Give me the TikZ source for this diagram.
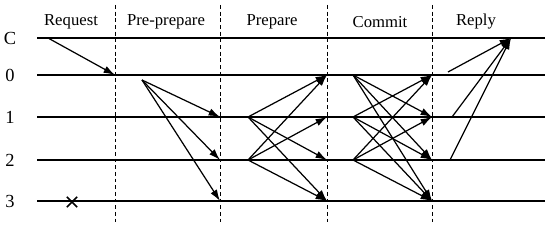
\documentclass[tikz,border=0pt]{standalone}
\usepackage{fontspec}
\setmainfont{Liberation Serif}
\usetikzlibrary{arrows.meta,shapes.misc}

\begin{document}
\begin{tikzpicture}[x=0.02cm, y=-0.02cm,
    timeline/.style={line width=0.9pt},
    phaseline/.style={line width=0.5pt, dash pattern=on 2.2pt off 1.6pt},
    msg/.style={-{Latex[length=6.5pt,width=4.2pt]}, line width=0.7pt},
    lbl/.style={font=\fontsize{10.5}{12}\selectfont},
    hdr/.style={font=\fontsize{9.5}{11}\selectfont}]
  \useasboundingbox (0,0) rectangle (550,229);

  %% Replica rows
  \foreach \name/\y in {C/38,0/75,1/117,2/160,3/201} {
    \node[lbl] (l\name) at (10,\y) {\name};
    \coordinate (s\name) at (37,\y);
    \coordinate (e\name) at (545,\y);
    \draw[timeline] (s\name) -- (e\name);
  }

  %% Phase boundaries
  \foreach \i/\x in {1/115,2/220,3/327,4/432} {
    \coordinate (t\i) at (\x,5);
    \coordinate (b\i) at (\x,222);
    \draw[phaseline] (t\i) -- (b\i);
    \foreach \name/\y in {C/38,0/75,1/117,2/160,3/201}
      \coordinate (p\i-\name) at (\x,\y);
  }

  %% Phase names
  \node[hdr] (hreq)  at (71,22)  {Request};
  \node[hdr] (hpre)  at (166,22) {Pre-prepare};
  \node[hdr] (hprep) at (272,22) {Prepare};
  \node[hdr] (hcom)  at (380,22) {Commit};
  \node[hdr] (hrep)  at (476,22) {Reply};

  %% Request
  \coordinate (req) at (48,38);
  \draw[msg] (req) -- (p1-0);

  %% Pre-prepare
  \coordinate (pp) at (142,80);
  \foreach \r in {1,2,3} \draw[msg] (pp) -- (p2-\r);

  %% Faulty replica
  \node[cross out, draw, line width=0.9pt, minimum size=5pt, inner sep=0pt] (fail) at (72,202) {};

  %% Prepare
  \coordinate (prep1) at (248,117);
  \coordinate (prep2) at (248,160);
  \foreach \r in {0,2,3} \draw[msg] (prep1) -- (p3-\r);
  \foreach \r in {0,1,3} \draw[msg] (prep2) -- (p3-\r);

  %% Commit
  \coordinate (com0) at (353,75);
  \coordinate (com1) at (353,117);
  \coordinate (com2) at (353,160);
  \foreach \r in {1,2,3} \draw[msg] (com0) -- (p4-\r);
  \foreach \r in {0,2,3} \draw[msg] (com1) -- (p4-\r);
  \foreach \r in {0,1,3} \draw[msg] (com2) -- (p4-\r);

  %% Reply
  \coordinate (cli) at (511,38);
  \coordinate (rep0) at (448,72);
  \coordinate (rep1) at (452,117);
  \coordinate (rep2) at (450,160);
  \foreach \r in {0,1,2} \draw[msg] (rep\r) -- (cli);
\end{tikzpicture}
\end{document}
